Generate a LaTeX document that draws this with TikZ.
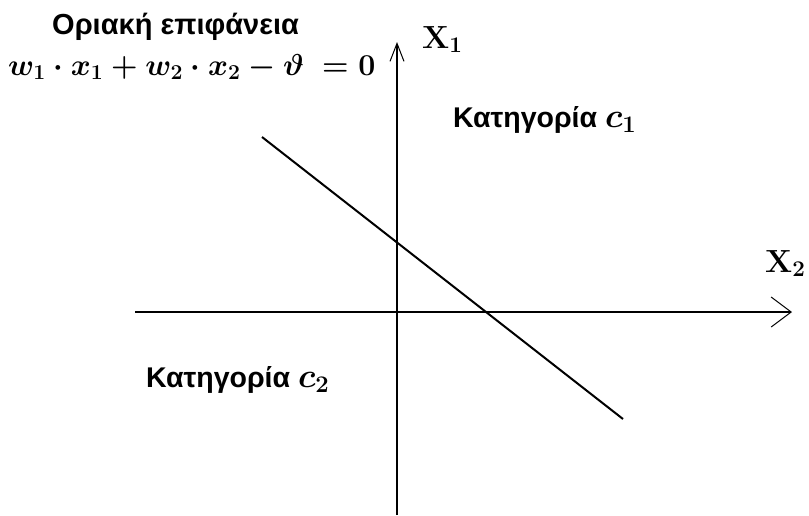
\RequirePackage{fix-cm}
\documentclass[tikz,border=0pt]{standalone}
\usepackage{amsmath}
\usepackage[no-math]{fontspec}
\setmainfont{Liberation Sans}
\usetikzlibrary{arrows.meta}
\tikzset{
  axisline/.style={line width=1.3pt},
  lbl/.style={inner sep=0pt, anchor=base west},
  greek/.style={font=\fontsize{28.5}{28}\selectfont\bfseries\boldmath},
  axlbl/.style={font=\fontsize{32}{32}\selectfont\boldmath},
}
\begin{document}
\begin{tikzpicture}[x=1pt,y=-1pt]
\useasboundingbox (0,0) rectangle (809,515);
% axes
\coordinate (yb) at (397,515);
\coordinate (yt) at (397,42);
\coordinate (xl) at (135,312);
\coordinate (xr) at (792,312);
\draw[axisline, -{Straight Barb[length=18pt,width=14pt,line width=1pt]}] (yb) -- (yt);
\draw[axisline, -{Straight Barb[length=20pt,width=30pt,line width=1pt]}] (xl) -- (xr);
% boundary line
\coordinate (la) at (262,137);
\coordinate (lb) at (623,419);
\draw[line width=2pt] (la) -- (lb);
% labels
\node[lbl, font=\fontsize{29}{29}\selectfont\bfseries] (title) at (52,34) {Οριακή επιφάνεια};
\node[lbl, font=\fontsize{30.3}{30}\selectfont\boldmath] (eq) at (8,75) {$w_1\cdot x_1 + w_2\cdot x_2 - \vartheta\ = 0$};
\node[lbl, axlbl] (x1) at (422,48) {$\mathbf{X}_1$};
\node[lbl, axlbl] (x2) at (765,272) {$\mathbf{X}_2$};
\node[lbl, greek] (c1) at (453,127) {Κατηγορία \fontsize{34}{34}\selectfont$c_1$};
\node[lbl, greek] (c2) at (146,387) {Κατηγορία \fontsize{34}{34}\selectfont$c_2$};
\end{tikzpicture}
\end{document}
